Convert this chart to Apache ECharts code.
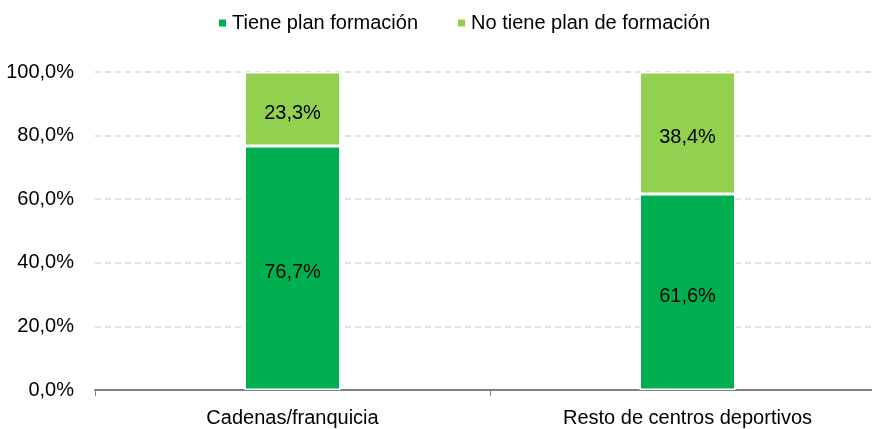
<!DOCTYPE html>
<html><head><meta charset="utf-8">
<script src="https://cdn.jsdelivr.net/npm/echarts@6/dist/echarts.min.js"></script>
<style>html,body{margin:0;padding:0;background:#fff}#c{width:872px;height:429px}</style>
</head><body><div id="c"></div>
<script>
const categories = ['Cadenas/franquicia', 'Resto de centros deportivos'];
const seriesNames = ['Tiene plan formación', 'No tiene plan de formación'];
const tieneplan = [76.7, 61.6];
const noTienePlan = [23.3, 38.4];
const colors = ['#00B050', '#92D050'];
const fontFam = 'Liberation Sans, Arial, sans-serif';
const fmt = v => v.toFixed(1).replace('.', ',') + '%';

const chart = echarts.init(document.getElementById('c'));
chart.setOption({
  animation: false,
  color: colors,
  textStyle: { fontFamily: fontFam },
  legend: {
    top: 8, left: 212, itemWidth: 9, itemHeight: 9, itemGap: 38,
    icon: 'rect',
    textStyle: { fontSize: 20, color: '#000', fontFamily: fontFam },
    data: seriesNames
  },
  grid: { left: 95, right: -13, top: 72, bottom: 39, containLabel: false, outerBoundsMode: 'none' },
  xAxis: {
    type: 'category', data: categories,
    axisLine: { lineStyle: { color: '#808080', width: 2 } },
    axisTick: { show: true, alignWithLabel: false, length: 6, lineStyle: { color: '#808080', width: 1 } },
    axisLabel: { fontSize: 20, color: '#000', margin: 18, fontFamily: fontFam }
  },
  yAxis: {
    type: 'value', min: 0, max: 100, interval: 20,
    axisLine: { show: false }, axisTick: { show: false },
    splitLine: { lineStyle: { color: '#D9D9D9', type: [6, 4], width: 1.5 } },
    axisLabel: { fontSize: 20, color: '#000', margin: 21, formatter: v => fmt(v), fontFamily: fontFam }
  },
  series: [
    { name: seriesNames[0], type: 'bar', stack: 't', data: tieneplan, barWidth: 96,
      itemStyle: { borderColor: '#fff', borderWidth: 1.5 },
      label: { show: true, position: 'inside', offset: [0, 4], color: '#000', fontSize: 20, formatter: p => fmt(p.value), fontFamily: fontFam } },
    { name: seriesNames[1], type: 'bar', stack: 't', data: noTienePlan, barWidth: 96,
      itemStyle: { borderColor: '#fff', borderWidth: 1.5 },
      label: { show: true, position: 'inside', offset: [0, 4], color: '#000', fontSize: 20, formatter: p => fmt(p.value), fontFamily: fontFam } }
  ]
});
</script></body></html>
